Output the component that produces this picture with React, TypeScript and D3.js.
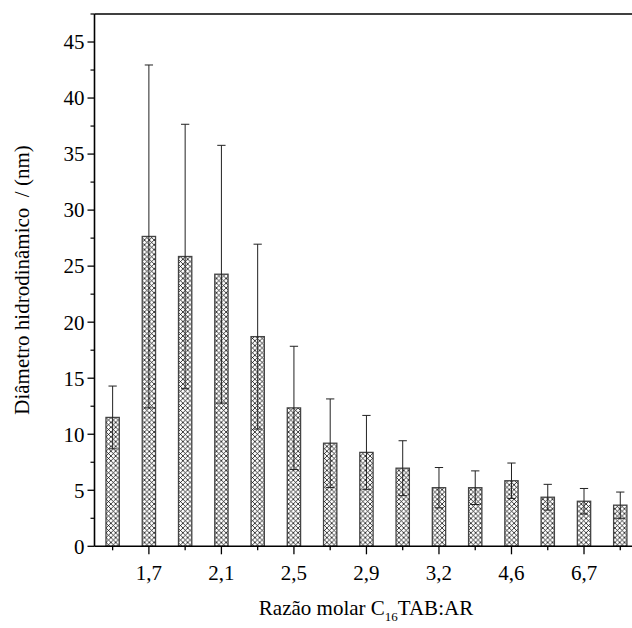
import React from "react";
import * as d3 from "d3";

const tickLabels = ["", "1,7", "", "2,1", "", "2,5", "", "2,9", "", "3,2", "", "4,6", "", "6,7", ""];
const diameters = [11.5, 27.65, 25.86, 24.28, 18.71, 12.35, 9.2, 8.38, 6.97, 5.23, 5.23, 5.85, 4.38, 4.02, 3.67];
const errors = [2.8, 15.3, 11.8, 11.5, 8.25, 5.5, 3.95, 3.3, 2.45, 1.8, 1.5, 1.58, 1.15, 1.14, 1.17];
const yTicks = [0, 5, 10, 15, 20, 25, 30, 35, 40, 45];
const yMinor = [2.5, 7.5, 12.5, 17.5, 22.5, 27.5, 32.5, 37.5, 42.5, 47.5];

const W = 632;
const H = 628;
const left = 94.5;
const top = 14;
const bottom = 546.3;
const rightEdge = 638.4;
const font = "Liberation Serif, Times New Roman, serif";

export default function App() {
  const idx = d3.range(diameters.length);
  const x = d3.scaleBand<number>().domain(idx).range([left, rightEdge]).paddingInner(0.633).paddingOuter(0.3165);
  const y = d3.scaleLinear().domain([0, 47.5]).range([bottom, top]);
  const center = (i: number) => (x(i) as number) + x.bandwidth() / 2;
  const capW = 8.3;
  const ts = { fontFamily: font, fontSize: "21px" } as React.CSSProperties;

  return (
    <svg width={W} height={H} style={{ position: "absolute", left: 0, top: 0, background: "#fff" }}>
      <defs>
        <pattern id="xhatch" width={4.8} height={4.8} patternUnits="userSpaceOnUse" x={0.5} y={0}>
          <rect width={4.8} height={4.8} fill="#fff" />
          <path d="M0,0 L4.8,4.8 M4.8,0 L0,4.8" stroke="#000" strokeWidth={0.75} />
        </pattern>
      </defs>
      {idx.map((i) => (
        <rect
          key={"b" + i}
          x={x(i)}
          y={y(diameters[i])}
          width={x.bandwidth()}
          height={y(0) - y(diameters[i])}
          fill="url(#xhatch)"
          stroke="#444"
          strokeWidth={1.3}
        />
      ))}
      {idx.map((i) => {
        const cx = center(i);
        const hi = y(diameters[i] + errors[i]);
        const lo = y(diameters[i] - errors[i]);
        return (
          <g key={"e" + i} stroke="#222" strokeWidth={1}>
            <line x1={cx} x2={cx} y1={hi} y2={lo} />
            <line x1={cx - capW / 2} x2={cx + capW / 2} y1={hi} y2={hi} />
            <line x1={cx - capW / 2} x2={cx + capW / 2} y1={lo} y2={lo} />
          </g>
        );
      })}
      <line x1={left} x2={W} y1={top} y2={top} stroke="#000" strokeWidth={1.6} />
      <line x1={left} x2={left} y1={top} y2={bottom} stroke="#000" strokeWidth={1.6} />
      <line x1={left} x2={W} y1={bottom} y2={bottom} stroke="#000" strokeWidth={1.6} />
      {yTicks.map((t) => (
        <g key={"yt" + t}>
          <line x1={left - 7} x2={left} y1={y(t)} y2={y(t)} stroke="#000" strokeWidth={1.3} />
          <text x={left - 10} y={y(t)} dy="0.35em" textAnchor="end" style={ts} fill="#000">
            {t}
          </text>
        </g>
      ))}
      {yMinor.map((t) => (
        <line key={"ym" + t} x1={left - 4} x2={left} y1={y(t)} y2={y(t)} stroke="#000" strokeWidth={1.2} />
      ))}
      {idx.map((i) => (
        <g key={"xt" + i}>
          <line
            x1={center(i)}
            x2={center(i)}
            y1={bottom}
            y2={bottom + (tickLabels[i] ? 8 : 4)}
            stroke="#000"
            strokeWidth={1.3}
          />
          {tickLabels[i] && (
            <text x={center(i)} y={bottom + 34} textAnchor="middle" style={ts} fill="#000">
              {tickLabels[i]}
            </text>
          )}
        </g>
      ))}
      <text x={366} y={615} textAnchor="middle" style={ts} fill="#000">
        Razão molar C<tspan style={{ fontSize: "13px" }} dy={6}>16</tspan>
        <tspan dy={-6}>TAB:AR</tspan>
      </text>
      <text
        transform={`translate(29, 280) rotate(-90)`}
        textAnchor="middle"
        style={{ ...ts, whiteSpace: "pre" }}
        fill="#000"
      >
        {"Diâmetro hidrodinâmico  / (nm)"}
      </text>
    </svg>
  );
}
